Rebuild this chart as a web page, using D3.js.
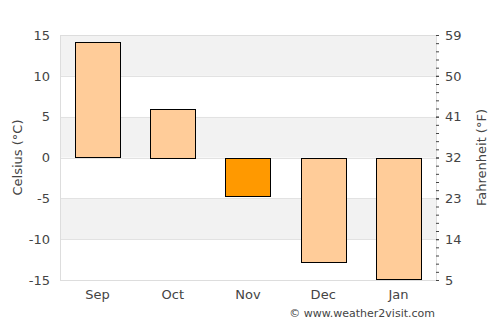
<!DOCTYPE html>
<html>
<head>
<script src="https://d3js.org/d3.v7.min.js"></script>
<style>
  body { margin: 0; background: #fff; }
  text { font-family: "DejaVu Sans", sans-serif; fill: #444; }
</style>
</head>
<body>
<svg width="500" height="325"></svg>
<script>
var months = ["Sep", "Oct", "Nov", "Dec", "Jan"]
var temps = [14.1, 6.0, -4.6, -12.7, -14.8]
var current = "Nov"
var celsiusTicks = [15, 10, 5, 0, -5, -10, -15]
var fahrTicks = [5, 14, 23, 32, 41, 50, 59]

const mLeft = 60, mRight = 436, mTop = 35, mBottom = 280
var svg = d3.select("svg")

var x = d3.scaleBand().domain(months).range([mLeft, mRight]).paddingInner(0.4).paddingOuter(0.2)
var y = d3.scaleLinear().domain([-15, 15]).range([mBottom, mTop])
var yf = d3.scaleLinear().domain([5, 59]).range([mBottom, mTop])

// alternating bands
var bands = d3.range(-15, 15, 5)
svg.append("g").selectAll("rect").data(bands).enter().append("rect")
  .attr("x", mLeft).attr("width", mRight - mLeft)
  .attr("y", function(d){ return y(d + 5) })
  .attr("height", function(d){ return y(d) - y(d + 5) })
  .style("fill", function(d){ return ((d + 15) / 5) % 2 == 1 ? "#f2f2f2" : "#fff" })

// grid lines
svg.append("g").selectAll("line").data(celsiusTicks).enter().append("line")
  .attr("x1", mLeft).attr("x2", mRight)
  .attr("y1", function(d){ return Math.round(y(d)) + 0.5 }).attr("y2", function(d){ return Math.round(y(d)) + 0.5 })
  .style("stroke", "#e2e2e2")

svg.append("rect").attr("x", mLeft + 0.5).attr("y", mTop + 0.5)
  .attr("width", mRight - mLeft).attr("height", mBottom - mTop)
  .style("fill", "none").style("stroke", "#ddd")

// bars
svg.append("g").selectAll("rect").data(temps).enter().append("rect")
  .attr("x", function(d, i){ return Math.round(x(months[i])) + 0.5 })
  .attr("width", Math.round(x.bandwidth()))
  .attr("y", function(d){ return Math.round(y(Math.max(0, d))) + 0.5 })
  .attr("height", function(d){ return Math.round(Math.abs(y(d) - y(0))) })
  .style("fill", function(d, i){ return months[i] == current ? "#ff9900" : "#ffcc99" })
  .style("stroke", "#000")

// left axis
var la = svg.append("g").attr("transform", "translate(" + mLeft + ",0)")
  .call(d3.axisLeft(y).tickValues(celsiusTicks).tickSize(0).tickPadding(10).tickFormat(function(d){ return String(d) }))
la.select(".domain").remove()
la.selectAll("text").style("font-size", "13px").style("fill", "#444")

// right axis minor ticks
var ra = svg.append("g").attr("transform", "translate(" + mRight + ",0)")
  .call(d3.axisRight(yf).tickValues(d3.range(5, 59.01, 1.8)).tickSize(3).tickFormat(""))
ra.select(".domain").remove()
ra.selectAll("line").style("stroke", "#444")
var ra2 = svg.append("g").attr("transform", "translate(" + mRight + ",0)")
  .call(d3.axisRight(yf).tickValues(fahrTicks).tickSize(3).tickPadding(6))
ra2.select(".domain").remove()
ra2.selectAll("line").style("stroke", "#444")
ra2.selectAll("text").style("font-size", "13px").style("fill", "#444")

// x axis labels
var xa = svg.append("g").attr("transform", "translate(0," + mBottom + ")")
  .call(d3.axisBottom(x).tickSize(0).tickPadding(10))
xa.select(".domain").remove()
xa.selectAll("text").style("font-size", "13px").style("fill", "#444")

svg.append("text").attr("transform", "translate(22," + y(0) + ") rotate(-90)")
  .attr("text-anchor", "middle").style("font-size", "13px").text("Celsius (°C)")
svg.append("text").attr("transform", "translate(486," + y(0) + ") rotate(-90)")
  .attr("text-anchor", "middle").style("font-size", "13px").text("Fahrenheit (°F)")
svg.append("text").attr("x", 435).attr("y", 317)
  .attr("text-anchor", "end").style("font-size", "11px").text("© www.weather2visit.com")
</script>
</body>
</html>
